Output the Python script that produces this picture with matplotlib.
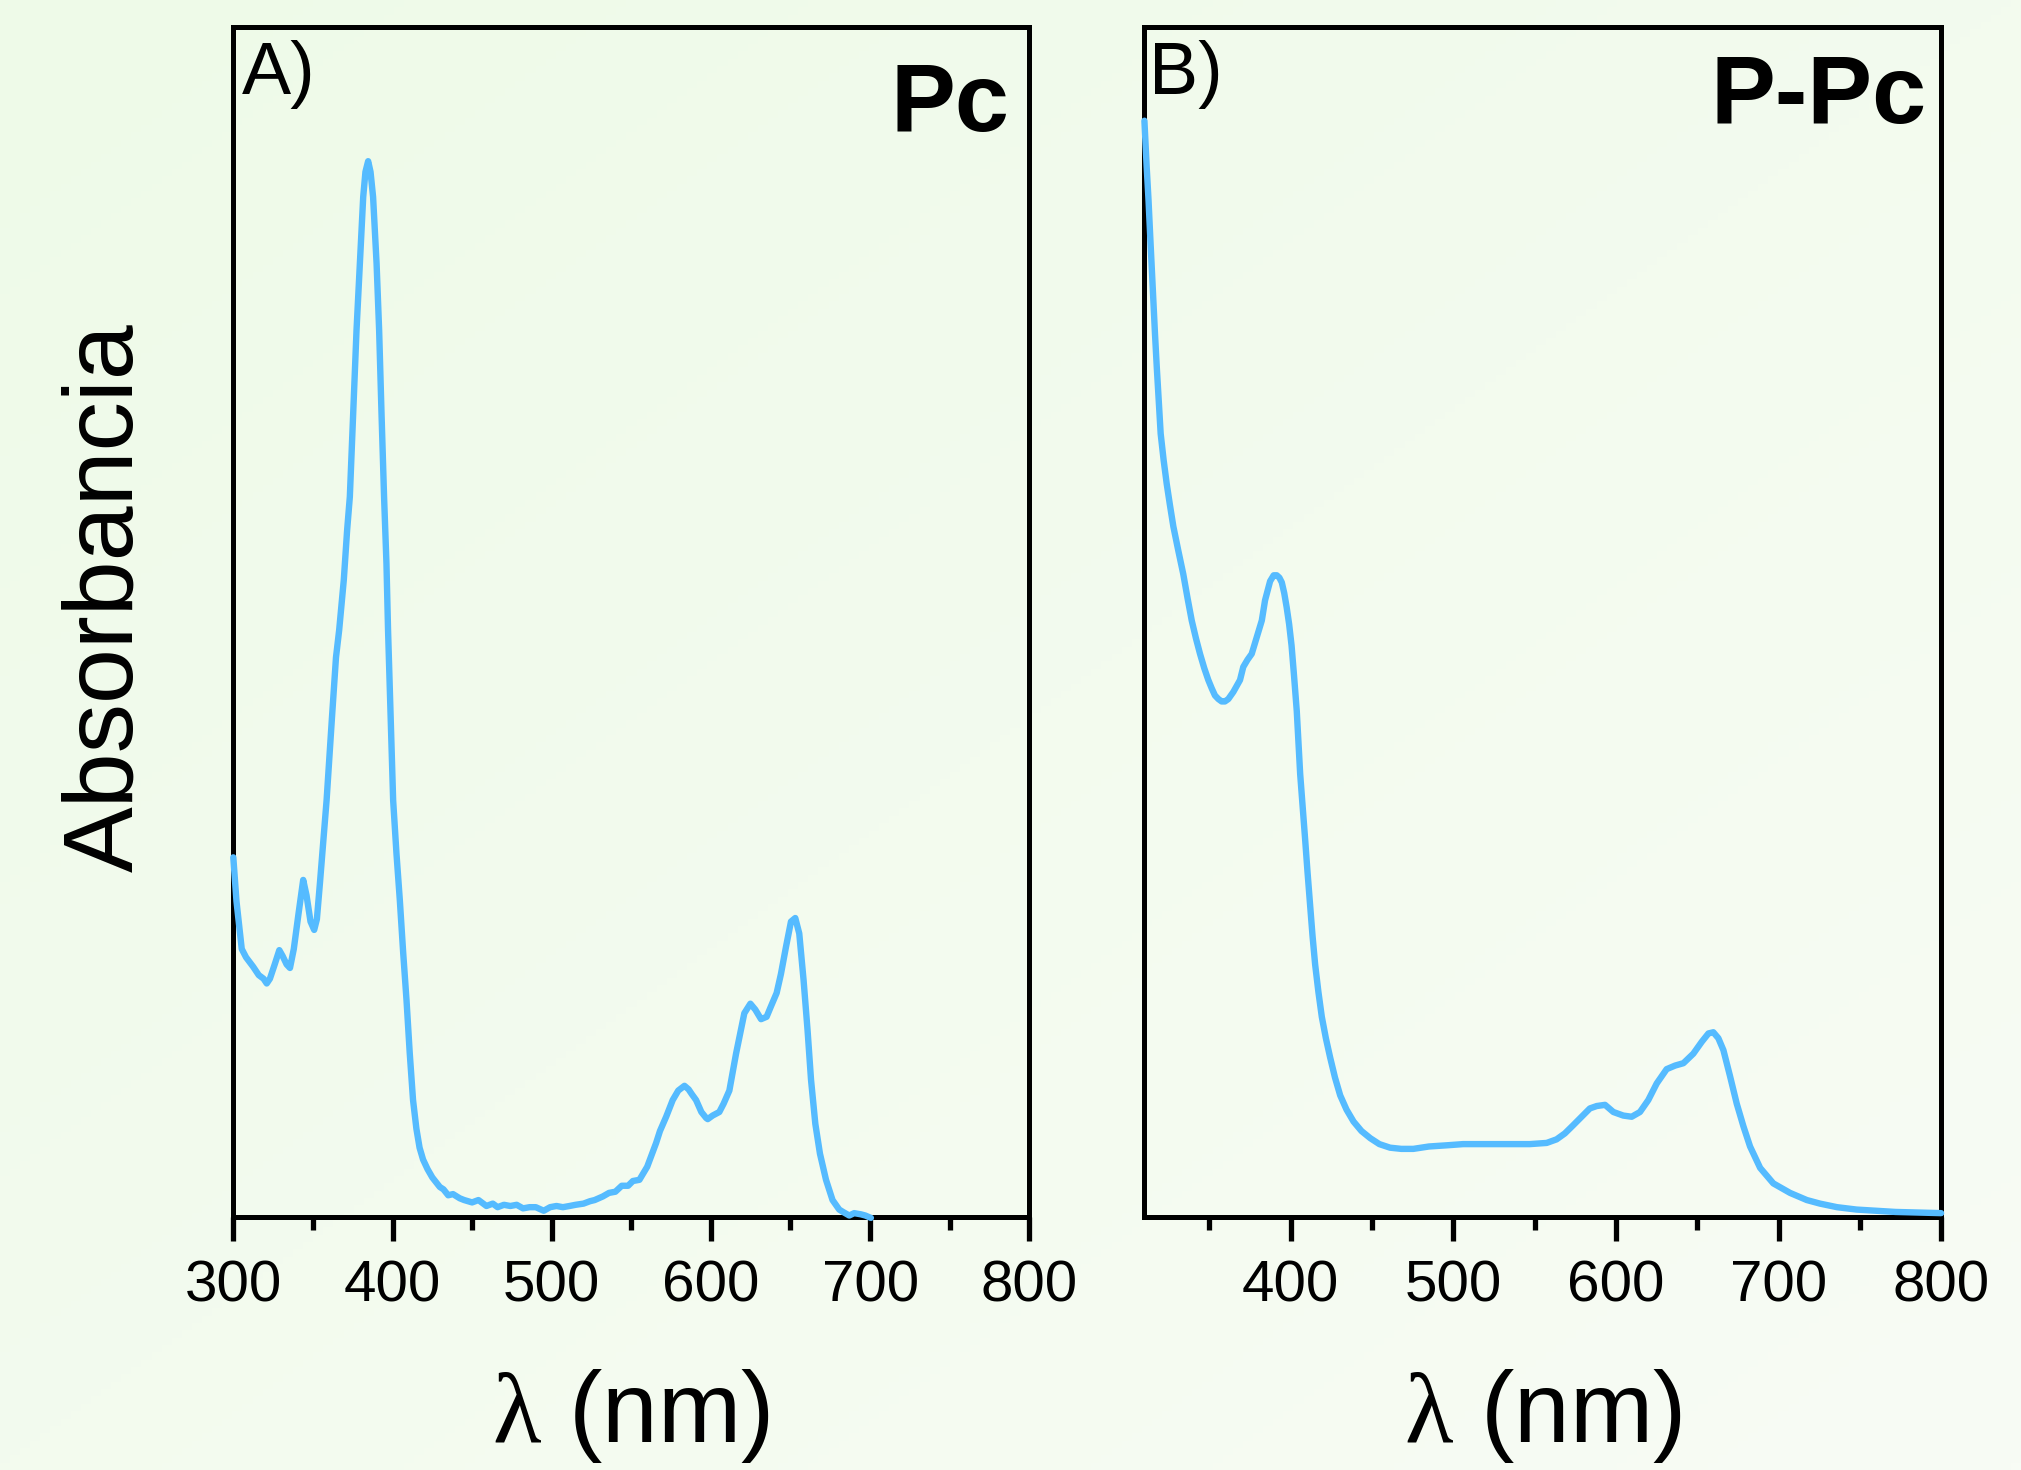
import numpy as np
import matplotlib
matplotlib.use("Agg")
import matplotlib.pyplot as plt
from matplotlib.ticker import MultipleLocator

# ---------------- data (arbitrary absorbance units) ----------------
pc_wavelength = [300, 302, 305.3, 308, 312.5, 316, 319, 321, 323, 326, 328.9, 331, 333.5, 335.6,
                 338, 341, 343.9, 346, 348.5, 350.8, 352.5, 354.4, 356.5, 358.6, 362, 364.5,
                 366.5, 369.4, 371.5, 373.2, 375.3, 377.4, 379.5, 381.6, 383, 384.7, 386.2,
                 387.8, 390, 391.6, 393.1, 394.7, 396.2, 397.2, 398.8, 400.4, 402.5, 404.6,
                 406.7, 408.8, 410.8, 412.9, 415, 417, 419.2, 422, 425, 429.7, 432, 435, 438,
                 442.2, 445, 450, 454, 459, 463, 466, 470, 474, 478, 482, 486.1, 490, 495, 499,
                 503, 507, 511.2, 515, 520, 524, 527, 532.1, 536, 540, 544, 548, 551, 555.1,
                 560, 565.6, 568, 571.9, 576, 579.5, 583.4, 586, 588, 590.7, 594, 597, 598,
                 601.1, 605.3, 608, 611.6, 615.8, 621, 624.8, 627.9, 631.5, 635, 637.8, 641.3,
                 644, 647.2, 650.3, 653, 655.5, 658.2, 660.7, 662.9, 665.6, 668.5, 672.3,
                 676.4, 680.6, 683, 686.9, 690, 694.2, 697, 700.5]
pc_absorbance = [0.302, 0.265, 0.225, 0.218, 0.210, 0.203, 0.200, 0.196, 0.200, 0.212, 0.224,
                 0.219, 0.212, 0.209, 0.225, 0.255, 0.283, 0.270, 0.248, 0.241, 0.250, 0.280,
                 0.315, 0.350, 0.420, 0.470, 0.493, 0.535, 0.577, 0.605, 0.675, 0.745, 0.801,
                 0.857, 0.878, 0.887, 0.878, 0.857, 0.801, 0.745, 0.675, 0.605, 0.549, 0.493,
                 0.420, 0.350, 0.305, 0.266, 0.222, 0.182, 0.138, 0.098, 0.074, 0.058, 0.048,
                 0.040, 0.033, 0.025, 0.023, 0.018, 0.019, 0.0155, 0.014, 0.012, 0.014, 0.009,
                 0.011, 0.008, 0.010, 0.009, 0.010, 0.007, 0.008, 0.008, 0.005, 0.008, 0.009,
                 0.008, 0.009, 0.010, 0.011, 0.013, 0.014, 0.017, 0.020, 0.021, 0.026, 0.026,
                 0.030, 0.031, 0.042, 0.062, 0.072, 0.084, 0.098, 0.106, 0.110, 0.107, 0.103,
                 0.098, 0.088, 0.083, 0.082, 0.085, 0.088, 0.095, 0.106, 0.137, 0.171, 0.179,
                 0.174, 0.166, 0.168, 0.177, 0.188, 0.204, 0.227, 0.248, 0.251, 0.238, 0.199,
                 0.157, 0.115, 0.078, 0.053, 0.031, 0.014, 0.006, 0.004, 0.001, 0.003, 0.002,
                 0.001, -0.001]

ppc_wavelength = [310, 311.4, 312.5, 313.5, 314.5, 315.5, 316.5, 317.6, 318.8, 320, 321.8,
                  323.7, 325.7, 327.8, 330.8, 333.9, 336.5, 339.1, 341.7, 344.2, 346.8, 349.3,
                  351.4, 353.4, 355.5, 357.5, 359.5, 361.6, 364.7, 368.8, 370.8, 373.4, 376,
                  379.1, 382.2, 384.2, 387.3, 389.5, 391.4, 393, 394.5, 396, 397.5, 399, 400.5,
                  402, 403.7, 405.8, 407.3, 408.8, 410.3, 411.9, 413.4, 415, 417, 419.1, 421.6,
                  424.2, 427.2, 430.4, 434.3, 438.6, 443.5, 448.9, 454.5, 461.1, 468, 475.4,
                  485, 496, 506, 516.5, 527, 537, 547, 557.4, 563.5, 568.6, 573.8, 578.9, 584,
                  588.2, 593.3, 598.4, 604.5, 609.7, 614.8, 619.9, 625.1, 631.2, 636.4, 641.5,
                  647.6, 652.8, 656.9, 659.9, 663, 666.1, 670.2, 674.3, 678.4, 682.5, 688.7,
                  696.8, 707.1, 717.4, 725.5, 736, 748, 760, 772, 786, 800]
ppc_absorbance = [0.921, 0.882, 0.855, 0.826, 0.798, 0.770, 0.742, 0.714, 0.686, 0.658, 0.636,
                  0.616, 0.598, 0.580, 0.560, 0.540, 0.520, 0.501, 0.486, 0.473, 0.461, 0.451,
                  0.444, 0.438, 0.435, 0.433, 0.433, 0.435, 0.441, 0.451, 0.462, 0.468, 0.473,
                  0.487, 0.501, 0.518, 0.534, 0.539, 0.539, 0.537, 0.533, 0.524, 0.512, 0.498,
                  0.480, 0.455, 0.425, 0.372, 0.345, 0.318, 0.290, 0.262, 0.236, 0.212, 0.189,
                  0.168, 0.150, 0.134, 0.117, 0.102, 0.090, 0.080, 0.072, 0.066, 0.061, 0.058,
                  0.057, 0.057, 0.059, 0.060, 0.061, 0.061, 0.061, 0.061, 0.061, 0.062, 0.065,
                  0.070, 0.077, 0.084, 0.091, 0.093, 0.094, 0.088, 0.085, 0.084, 0.088, 0.098,
                  0.112, 0.124, 0.127, 0.129, 0.137, 0.147, 0.154, 0.155, 0.150, 0.140, 0.118,
                  0.095, 0.076, 0.059, 0.041, 0.028, 0.020, 0.014, 0.011, 0.008, 0.006, 0.005,
                  0.004, 0.0035, 0.003]

xticks_pc = [300, 400, 500, 600, 700, 800]
xticks_ppc = [400, 500, 600, 700, 800]
panel_tags = ["A)", "B)"]
panel_titles = ["Pc", "P-Pc"]

# ---------------- style ----------------
plt.rcParams["font.family"] = ["Liberation Sans", "DejaVu Sans"]
plt.rcParams["mathtext.fontset"] = "custom"
plt.rcParams["mathtext.rm"] = "Liberation Serif"
plt.rcParams["mathtext.it"] = "Liberation Serif:italic"

LINE_COLOR = "#55BBFF"
fig = plt.figure(figsize=(20.21, 14.70), dpi=100)

# soft green background gradient
bg = fig.add_axes([0, 0, 1, 1], zorder=-10)
gx, gy = np.meshgrid(np.linspace(0, 1, 200), np.linspace(0, 1, 200))
t = np.clip((gx + gy) / 2.0, 0, 1)[..., None]
c0 = np.array([238, 250, 232]) / 255.0
c1 = np.array([248, 252, 245]) / 255.0
bg.imshow(c0 * (1 - t) + c1 * t, aspect="auto", extent=[0, 1, 0, 1], origin="upper")
bg.axis("off")

ax1 = fig.add_axes([0.11544, 0.17231, 0.39386, 0.80952])
ax2 = fig.add_axes([0.56626, 0.17231, 0.39421, 0.80952])

datasets = [(ax1, pc_wavelength, pc_absorbance, (300, 800), xticks_pc),
            (ax2, ppc_wavelength, ppc_absorbance, (310, 800), xticks_ppc)]

for i, (ax, x, y, xl, ticks) in enumerate(datasets):
    ax.set_facecolor("none")
    ax.plot(x, y, color=LINE_COLOR, lw=4.6, solid_joinstyle="round", solid_capstyle="round",
            clip_on=False, zorder=3)
    ax.set_xlim(*xl)
    ax.set_ylim(0, 1)
    ax.set_xticks(ticks)
    ax.xaxis.set_minor_locator(MultipleLocator(50))
    ax.set_yticks([])
    for s in ax.spines.values():
        s.set_linewidth(3.6)
        s.set_color("black")
    ax.tick_params(axis="x", which="major", direction="out", length=17, width=3.8,
                   labelsize=42, pad=14, color="black")
    ax.tick_params(axis="x", which="minor", direction="out", length=9, width=3.8, color="black")
    ax.set_xlabel(r"$\mathrm{\lambda}$ (nm)", fontsize=72)
    ax.xaxis.set_label_coords(0.5, -0.126)
    ax.text(0.011 if i == 0 else 0.006, 0.989, panel_tags[i], transform=ax.transAxes,
            ha="left", va="top", fontsize=53)
    ax.text(0.9745 if i == 0 else 0.982, 0.9712 if i == 0 else 0.9776, panel_titles[i],
            transform=ax.transAxes, ha="right", va="top", fontsize=70, fontweight="bold")

ax1.set_ylabel("Absorbancia", fontsize=71, va="center")
ax1.yaxis.set_label_coords(-0.1587, 0.5203)

fig.savefig("out.png", dpi=100)
